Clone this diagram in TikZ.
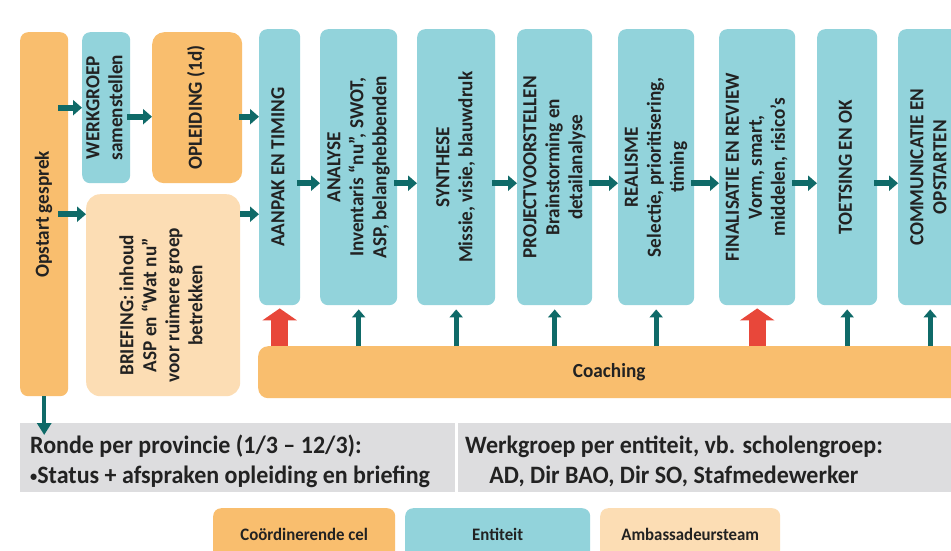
\documentclass[tikz,border=0pt]{standalone}
\usepackage{fontspec}
\setmainfont{Carlito}
\newfontfamily\boxfont[FakeStretch=0.96]{Carlito}
\usetikzlibrary{arrows.meta,calc}
\definecolor{cOr}{HTML}{F9BE6E}
\definecolor{cTe}{HTML}{92D3DB}
\definecolor{cPe}{HTML}{FCDDB4}
\definecolor{cGr}{HTML}{DDDDDF}
\definecolor{cAr}{HTML}{0F6A68}
\definecolor{cRe}{HTML}{E8473A}
\definecolor{cTx}{HTML}{222222}
\newcommand\vtext[1]{\rotatebox{90}{\begin{tabular}{@{}c@{}}#1\end{tabular}}}
\newcommand\vtextlow[1]{\rotatebox{90}{\begin{tabular}{@{}c@{\hspace{20pt}}}#1\end{tabular}}}
\newcommand\smallbul{\raisebox{2pt}{\fontsize{15}{15}\selectfont •}}
\begin{document}
\begin{tikzpicture}[x=1pt,y=-1pt,
  bx/.style={inner sep=0pt, anchor=north west, rounded corners=8pt, text=cTx,
    font=\boxfont\bfseries\fontsize{20}{23}\selectfont},
  orbox/.style={bx, fill=cOr},
  tebox/.style={bx, fill=cTe},
  pebox/.style={bx, fill=cPe},
  graybox/.style={inner sep=0pt, anchor=north west, fill=cGr},
  graytext/.style={inner sep=0pt, text=cTx, font=\boxfont\bfseries\fontsize{25}{30}\selectfont},
  legbox/.style={bx, font=\boxfont\bfseries\fontsize{17.5}{20}\selectfont, minimum height=52pt},
  ha/.style={draw=cAr, line width=6pt, -{Triangle[width=15pt,length=9pt]}},
  va/.style={draw=cAr, line width=5pt, -{Triangle[width=13pt,length=8pt]}, shorten >=4pt},
  ra/.style={draw=cRe, line width=17pt, -{Triangle[width=34pt,length=12pt]}, shorten >=3pt},
  da/.style={draw=cAr, line width=3.5pt, -{Triangle[width=14pt,length=12pt]}}]
\useasboundingbox (0,0) rectangle (951,550);
\fill[white] (0,0) rectangle (951,550);
\clip (0,0) rectangle (951,550);

% left part
\node[orbox, minimum width=48pt, minimum height=364pt] (op) at (20,32) {\vtext{Opstart gesprek}};
\node[tebox, minimum width=48pt, minimum height=151pt] (wg) at (82,32) {\vtext{WERKGROEP\\samenstellen}};
\node[orbox, minimum width=90pt, minimum height=151pt, rounded corners=12pt] (ol) at (152,32) {\vtext{OPLEIDING (1d)}};
\node[pebox, minimum width=154pt, minimum height=202pt, rounded corners=14pt] (br) at (86,194)
  {\vtextlow{BRIEFING: inhoud\\ASP en “Wat nu”\\voor ruimere groep\\betrekken}};

% process steps
\node[tebox, minimum width=41pt, minimum height=276pt] (s1) at (259,29) {\vtext{AANPAK EN TIMING}};
\node[tebox, minimum width=77pt, minimum height=276pt] (s2) at (320,29) {\vtext{ANALYSE\\Inventaris “nu”, SWOT,\\ASP, belanghebbenden}};
\node[tebox, minimum width=78pt, minimum height=276pt] (s3) at (417,29) {\vtext{SYNTHESE\\Missie, visie, blauwdruk}};
\node[tebox, minimum width=75pt, minimum height=276pt] (s4) at (517,29) {\vtext{PROJECTVOORSTELLEN\\Brainstorming en\\detailanalyse}};
\node[tebox, minimum width=76pt, minimum height=276pt] (s5) at (618,29) {\vtext{REALISME\\Selectie, prioritisering,\\timing}};
\node[tebox, minimum width=76pt, minimum height=276pt] (s6) at (719,29) {\vtext{FINALISATIE EN REVIEW\\Vorm, smart,\\middelen, risico’s}};
\node[tebox, minimum width=60pt, minimum height=276pt] (s7) at (817,29) {\vtext{TOETSING EN OK}};
\node[tebox, minimum width=64pt, minimum height=276pt] (s8) at (898,29) {\vtext{COMMUNICATIE EN\\OPSTARTEN}};

% coaching
\node[orbox, minimum width=702pt, minimum height=52pt, rounded corners=10pt] (co) at (258,346) {Coaching};

% gray info boxes
\node[graybox, minimum width=435pt, minimum height=69pt] (gl) at (20,423) {};
\node[graybox, minimum width=502pt, minimum height=69pt] (gr) at (458,423) {};
\node[graytext, anchor=west, align=left] (gltx) at (30,461)
  {Ronde per provincie (1/3 – 12/3):\\\smallbul Status + afspraken opleiding en briefing};
\node[graytext, align=center] (grtx) at (674,461)
  {Werkgroep per entiteit, vb. scholengroep:\\AD, Dir BAO, Dir SO, Stafmedewerker};

% legend
\node[legbox, fill=cOr, minimum width=182pt] (l1) at (213,508) {Coördinerende cel};
\node[legbox, fill=cTe, minimum width=185pt] (l2) at (405,508) {Entiteit};
\node[legbox, fill=cPe, minimum width=180pt] (l3) at (600,508) {Ambassadeursteam};

% arrows in the left part
\draw[ha] ($(op.east |- wg.west)+(-10,0)$) -- (wg.west);
\draw[ha] ($(op.east)+(-10,0)$) -- (br.west |- op.east);
\draw[ha] ($(wg.east)+(-3,9)$) -- ($(ol.west)+(0,9)$);
\draw[ha] ($(ol.east)+(-3,9)$) -- ($(s1.west |- ol.east)+(0,9)$);
\draw[ha] (br.east |- op.east) -- (s1.west |- op.east);
\draw[da] (op.south) -- ($(gl.north -| op.south)+(0,12)$);

% chain arrows
\foreach \a/\b in {s1/s2,s2/s3,s3/s4,s4/s5,s5/s6,s6/s7,s7/s8}
  \draw[ha] ($(\a.east)+(-3,16)$) -- ($(\b.west)+(0,16)$);

% coaching arrows
\draw[ra] (co.north -| s1.south) -- (s1.south);
\draw[ra] (co.north -| s6.south) -- (s6.south);
\foreach \s in {s2,s3,s4,s5,s7,s8}
  \draw[va] (co.north -| \s.south) -- (\s.south);
\end{tikzpicture}
\end{document}
